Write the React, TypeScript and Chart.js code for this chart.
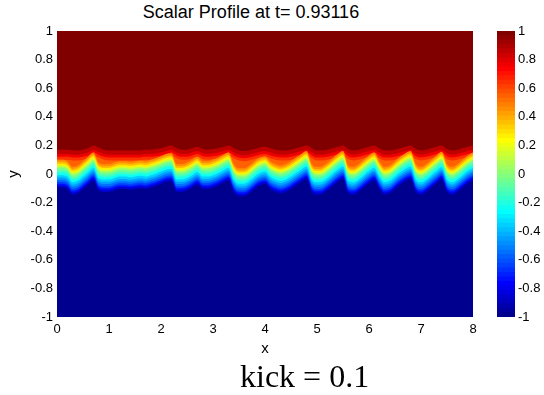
import React, { useEffect, useRef } from "react";
import { Chart, registerables } from "chart.js";

Chart.register(...registerables);

const TITLE = "Scalar Profile at t= 0.93116";
const CAPTION = "kick = 0.1";
const X_LABEL = "x";
const Y_LABEL = "y";

// x positions (columns) where the contours were read
const xPositions = [
  0, 0.1, 0.2, 0.3, 0.4, 0.5, 0.6, 0.7, 0.8, 0.9,
  1, 1.1, 1.2, 1.3, 1.4, 1.5, 1.6, 1.7, 1.8, 1.9,
  2, 2.1, 2.2, 2.3, 2.4, 2.5, 2.6, 2.7, 2.8, 2.9,
  3, 3.1, 3.2, 3.3, 3.4, 3.5, 3.6, 3.7, 3.8, 3.9,
  4, 4.1, 4.2, 4.3, 4.4, 4.5, 4.6, 4.7, 4.8, 4.9,
  5, 5.1, 5.2, 5.3, 5.4, 5.5, 5.6, 5.7, 5.8, 5.9,
  6, 6.1, 6.2, 6.3, 6.4, 6.5, 6.6, 6.7, 6.8, 6.9,
  7, 7.1, 7.2, 7.3, 7.4, 7.5, 7.6, 7.7, 7.8, 7.9,
  8,
];

// height of the scalar = 0 contour (the wavy interface) at each x position
const interfaceY = [
  0.04, 0.04, 0.03, -0.01, 0.0, 0.03, 0.06, 0.09, 0.02, 0.01,
  0.01, 0.02, 0.03, 0.03, 0.025, 0.03, 0.035, 0.03, 0.04, 0.05,
  0.065, 0.08, 0.085, 0.01, 0.01, 0.02, 0.04, 0.06, 0.03, 0.03,
  0.04, 0.055, 0.075, 0.09, 0.01, -0.02, -0.02, 0.0, 0.03, 0.055,
  0.065, 0.03, 0.01, 0.0, 0.01, 0.03, 0.055, 0.08, 0.1, 0.01,
  -0.01, -0.005, 0.02, 0.05, 0.08, 0.1, 0.0, -0.01, 0.01, 0.04,
  0.07, 0.09, 0.03, -0.01, 0.0, 0.03, 0.06, 0.085, 0.1, 0.01,
  -0.01, 0.01, 0.04, 0.07, 0.095, 0.01, -0.01, 0.01, 0.04, 0.07,
  0.09,
];

// height of the scalar = 0.9 contour (where red turns dark red)
const redEdgeY = [
  0.17, 0.17, 0.17, 0.165, 0.165, 0.17, 0.18, 0.2, 0.185, 0.17,
  0.165, 0.165, 0.165, 0.165, 0.165, 0.165, 0.165, 0.17, 0.17, 0.175,
  0.18, 0.19, 0.2, 0.18, 0.17, 0.17, 0.18, 0.19, 0.175, 0.17,
  0.175, 0.18, 0.19, 0.2, 0.18, 0.165, 0.16, 0.165, 0.175, 0.185,
  0.19, 0.18, 0.17, 0.165, 0.165, 0.17, 0.18, 0.19, 0.2, 0.18,
  0.165, 0.165, 0.17, 0.18, 0.19, 0.2, 0.175, 0.165, 0.17, 0.18,
  0.19, 0.2, 0.18, 0.165, 0.165, 0.17, 0.18, 0.19, 0.2, 0.175,
  0.165, 0.17, 0.18, 0.19, 0.2, 0.175, 0.165, 0.17, 0.18, 0.19,
  0.2,
];

// scalar levels measured from the interface (zero contour)
const lowerLevelValues = [
  -0.9, -0.8, -0.7, -0.6, -0.5, -0.4, -0.3, -0.2, -0.1, 0, 0.1, 0.2, 0.3, 0.4, 0.5,
];
const lowerLevelOffsets = [
  -0.135, -0.12, -0.108, -0.095, -0.08, -0.065, -0.048, -0.03, -0.015, 0, 0.01, 0.02, 0.032,
  0.045, 0.06,
];
// scalar levels measured from the red edge (0.9 contour)
const upperLevelValues = [0.6, 0.7, 0.8, 0.9];
const upperLevelOffsets = [-0.07, -0.05, -0.03, 0];

const X_MIN = 0;
const X_MAX = 8;
const Y_MIN = -1;
const Y_MAX = 1;
const C_MIN = -1;
const C_MAX = 1;
const COLORMAP_SIZE = 64;

// MATLAB-style jet(m) colormap table
function jetTable(m: number): string[] {
  const n = Math.ceil(m / 4);
  const u: number[] = [];
  for (let i = 1; i <= n; i++) u.push(i / n);
  for (let i = 1; i < n; i++) u.push(1);
  for (let i = n; i >= 1; i--) u.push(i / n);
  const gOff = Math.ceil(n / 2) - (m % 4 === 1 ? 1 : 0);
  const r = new Array(m).fill(0);
  const g = new Array(m).fill(0);
  const b = new Array(m).fill(0);
  u.forEach((val, j) => {
    const gi = gOff + j;
    const ri = gi + n;
    const bi = gi - n;
    if (gi >= 0 && gi < m) g[gi] = val;
    if (ri >= 0 && ri < m) r[ri] = val;
    if (bi >= 0 && bi < m) b[bi] = val;
  });
  return r.map(
    (_, i) =>
      `rgb(${Math.round(r[i] * 255)},${Math.round(g[i] * 255)},${Math.round(b[i] * 255)})`
  );
}
const JET = jetTable(COLORMAP_SIZE);
const colorOf = (v: number) => {
  const idx = Math.floor(((v - C_MIN) / (C_MAX - C_MIN)) * COLORMAP_SIZE);
  return JET[Math.max(0, Math.min(COLORMAP_SIZE - 1, idx))];
};

const FONT = "'Liberation Sans', Arial, sans-serif";

const fmt = (v: number | string) => String(Number(Number(v).toFixed(1)));

export default function App() {
  const mainRef = useRef<HTMLCanvasElement | null>(null);
  const barRef = useRef<HTMLCanvasElement | null>(null);

  useEffect(() => {
    if (!mainRef.current || !barRef.current) return;

    const levels = [
      ...lowerLevelValues.map((v, k) => ({ v, ref: interfaceY, off: lowerLevelOffsets[k] })),
      ...upperLevelValues.map((v, k) => ({ v, ref: redEdgeY, off: upperLevelOffsets[k] })),
    ];

    const lineOf = (lv: { ref: number[]; off: number }) =>
      xPositions.map((x, i) => ({ x, y: lv.ref[i] + lv.off }));

    const common = {
      borderWidth: 0,
      pointRadius: 0,
      cubicInterpolationMode: "monotone",
    };

    const datasets: any[] = levels.map((lv, k) => {
      const mid = k === 0 ? C_MIN : (levels[k - 1].v + lv.v) / 2;
      return {
        ...common,
        data: lineOf(lv),
        fill: "start",
        backgroundColor: colorOf(mid),
      };
    });
    // dark red region above, drawn first beneath all the bands
    datasets.push({
      ...common,
      data: lineOf(levels[0]),
      fill: "end",
      backgroundColor: colorOf(C_MAX),
    });

    const main = new Chart(mainRef.current, {
      type: "line",
      data: { datasets },
      options: {
        responsive: false,
        animation: false,
        layout: { padding: { left: 0, right: 29, top: 31, bottom: 0 } },
        plugins: {
          legend: { display: false },
          tooltip: { enabled: false },
          title: { display: false },
        },
        scales: {
          x: {
            type: "linear",
            min: X_MIN,
            max: X_MAX,
            ticks: {
              stepSize: 1,
              color: "#000",
              padding: 5,
              maxRotation: 0,
              font: { family: FONT, size: 13 },
              callback: fmt,
            },
            grid: { display: false, drawTicks: false },
            border: { display: false },
            title: {
              display: true,
              text: X_LABEL,
              color: "#000",
              font: { family: FONT, size: 15 },
              padding: { top: 0, bottom: 2 },
            },
            afterFit: (s: any) => {
              s.height = 43;
            },
          },
          y: {
            type: "linear",
            min: Y_MIN,
            max: Y_MAX,
            ticks: {
              stepSize: 0.2,
              color: "#000",
              padding: 4,
              font: { family: FONT, size: 13 },
              callback: fmt,
            },
            grid: { display: false, drawTicks: false },
            border: { display: false },
            title: {
              display: true,
              text: Y_LABEL,
              color: "#000",
              font: { family: FONT, size: 15 },
              padding: { top: 5, bottom: 0 },
            },
            afterFit: (s: any) => {
              s.width = 57;
            },
          },
        },
      },
    } as any);

    const step = (C_MAX - C_MIN) / COLORMAP_SIZE;
    const barSets = JET.map((col, k) => ({
      data: [[C_MIN, C_MIN + (k + 1) * step]],
      backgroundColor: col,
      borderWidth: 0,
      grouped: false,
      barPercentage: 1,
      categoryPercentage: 1,
    }));

    const bar = new Chart(barRef.current, {
      type: "bar",
      data: { labels: [""], datasets: barSets },
      options: {
        responsive: false,
        animation: false,
        layout: { padding: { left: 7, right: 0, top: 31, bottom: 43 } },
        plugins: { legend: { display: false }, tooltip: { enabled: false } },
        scales: {
          x: { display: false },
          y: {
            position: "right",
            min: C_MIN,
            max: C_MAX,
            ticks: {
              stepSize: 0.2,
              color: "#000",
              padding: 3,
              font: { family: FONT, size: 13 },
              callback: fmt,
            },
            grid: { display: false, drawTicks: false },
            border: { display: false },
            afterFit: (s: any) => {
              s.width = 29;
            },
          },
        },
      },
    } as any);

    return () => {
      main.destroy();
      bar.destroy();
    };
  }, []);

  return (
    <div
      style={{
        position: "fixed",
        left: 0,
        top: 0,
        width: 544,
        height: 395,
        background: "#fff",
        overflow: "hidden",
      }}
    >
      <div
        style={{
          position: "absolute",
          left: 0,
          top: 2.3,
          width: 502,
          textAlign: "center",
          fontFamily: FONT,
          fontSize: 18,
          lineHeight: "21.6px",
          color: "#000",
          whiteSpace: "nowrap",
        }}
      >
        {TITLE}
      </div>
      <canvas
        ref={mainRef}
        width={502}
        height={360}
        style={{ position: "absolute", left: 0, top: 0, width: 502, height: 360 }}
      />
      <canvas
        ref={barRef}
        width={54}
        height={360}
        style={{ position: "absolute", left: 490, top: 0, width: 54, height: 360 }}
      />
      <div
        style={{
          position: "absolute",
          left: 240,
          top: 360,
          fontFamily: "'Liberation Serif', 'Times New Roman', serif",
          fontSize: 32,
          lineHeight: "32px",
          color: "#000",
          whiteSpace: "nowrap",
        }}
      >
        {CAPTION}
      </div>
    </div>
  );
}
